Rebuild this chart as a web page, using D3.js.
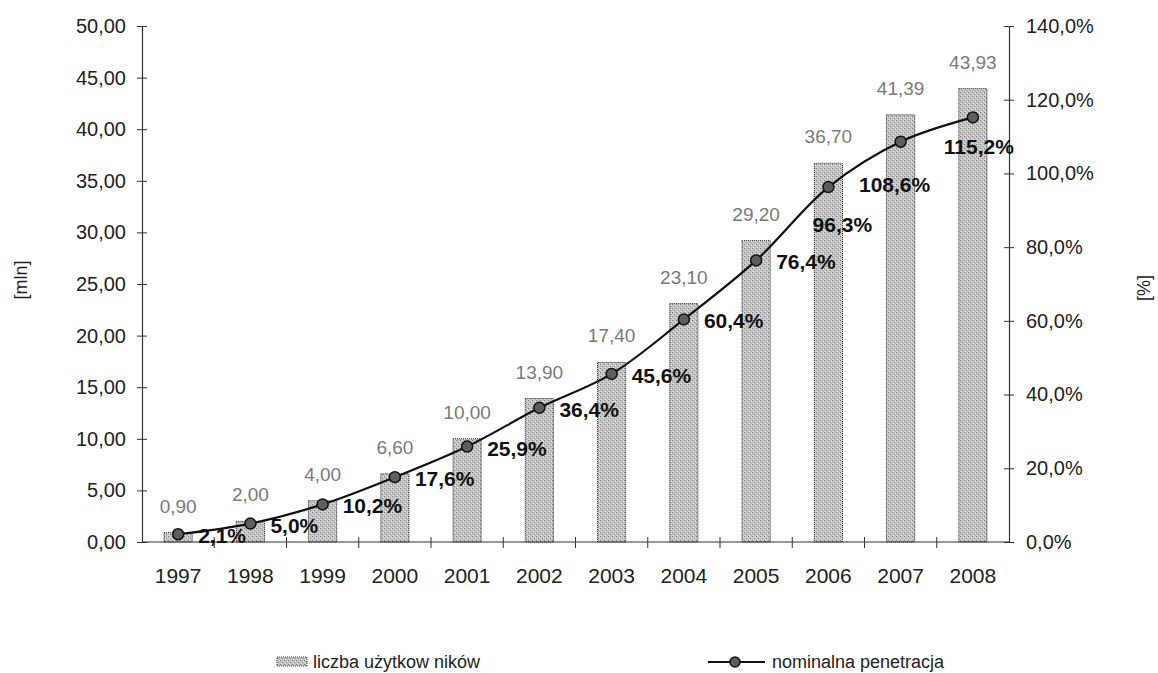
<!DOCTYPE html>
<html>
<head>
<meta charset="utf-8">
<script src="https://cdn.jsdelivr.net/npm/d3@7"></script>
<style>
  html, body { margin: 0; padding: 0; background: #fff; }
  svg { display: block; font-family: "Liberation Sans", Arial, sans-serif; }
</style>
</head>
<body>
<svg id="chart" width="1158" height="673"></svg>
<script>
// ---- data ----
const years = ["1997","1998","1999","2000","2001","2002","2003","2004","2005","2006","2007","2008"];
const users = [0.90, 2.00, 4.00, 6.60, 10.00, 13.90, 17.40, 23.10, 29.20, 36.70, 41.39, 43.93];
const penetration = [2.1, 5.0, 10.2, 17.6, 25.9, 36.4, 45.6, 60.4, 76.4, 96.3, 108.6, 115.2];
const leftTicks = [0, 5, 10, 15, 20, 25, 30, 35, 40, 45, 50];
const rightTicks = [0, 20, 40, 60, 80, 100, 120, 140];
const seriesNames = ["liczba użytkow ników", "nominalna penetracja"];
const axisTitles = ["[mln]", "[%]"];

// ---- layout ----
const W = 1158, H = 673;
const plot = { left: 142, right: 1009, top: 26, bottom: 542 };
// label placement (anchor, dx, dy baseline) for percentage labels, relative to marker
const pctLabelOffset = [
  ["start", 20, 9], ["start", 20, 9], ["start", 20, 9], ["start", 20, 9],
  ["start", 20, 9], ["start", 20, 9], ["start", 20, 9], ["start", 20, 9],
  ["start", 20, 9], ["middle", 14, 45], ["middle", -6, 50], ["middle", 6, 37]
];

const svg = d3.select("#chart");

const x = d3.scaleBand().domain(years).range([plot.left, plot.right])
  .paddingInner(0.61).paddingOuter(0.305);
const yL = d3.scaleLinear().domain([0, 50]).range([plot.bottom, plot.top]);
const yR = d3.scaleLinear().domain([0, 140]).range([plot.bottom, plot.top]);

const fmt2 = v => d3.format(".2f")(v).replace(".", ",");
const fmtP = v => d3.format(".1f")(v).replace(".", ",") + "%";

// pattern for bars (stippled gray)
const defs = svg.append("defs");
const pat = defs.append("pattern").attr("id", "stipple").attr("patternUnits", "userSpaceOnUse")
  .attr("width", 4).attr("height", 4);
pat.append("rect").attr("width", 4).attr("height", 4).attr("fill", "#c4c4c4");
pat.append("rect").attr("x", 0).attr("y", 0).attr("width", 1).attr("height", 1).attr("fill", "#7c7c7c");
pat.append("rect").attr("x", 2).attr("y", 2).attr("width", 1).attr("height", 1).attr("fill", "#888888");
pat.append("rect").attr("x", 3).attr("y", 1).attr("width", 1).attr("height", 1).attr("fill", "#e6e6e6");
pat.append("rect").attr("x", 1).attr("y", 3).attr("width", 1).attr("height", 1).attr("fill", "#e6e6e6");

// bars
svg.append("g").selectAll("rect").data(users).join("rect")
  .attr("x", (d, i) => x(years[i]))
  .attr("y", d => yL(d))
  .attr("width", x.bandwidth())
  .attr("height", d => yL(0) - yL(d))
  .attr("fill", "url(#stipple)")
  .attr("stroke", "#222")
  .attr("stroke-width", 1)
  .attr("stroke-dasharray", "1,1");

// bar labels
svg.append("g").selectAll("text").data(users).join("text")
  .attr("x", (d, i) => x(years[i]) + x.bandwidth() / 2)
  .attr("y", d => yL(d) - 20)
  .attr("text-anchor", "middle")
  .attr("font-size", 19)
  .attr("fill", "#7a7a7a")
  .text(d => fmt2(d));

// x axis line
svg.append("line").attr("x1", plot.left).attr("x2", plot.right)
  .attr("y1", plot.bottom).attr("y2", plot.bottom)
  .attr("stroke", "#333").attr("stroke-width", 1.2);
// x category ticks (between categories)
svg.append("g").selectAll("line").data(years.slice(1)).join("line")
  .attr("x1", d => x(d) - x.step() * x.paddingInner() / 2)
  .attr("x2", d => x(d) - x.step() * x.paddingInner() / 2)
  .attr("y1", plot.bottom - 5).attr("y2", plot.bottom + 6)
  .attr("stroke", "#333").attr("stroke-width", 1);
// x labels
svg.append("g").selectAll("text").data(years).join("text")
  .attr("x", d => x(d) + x.bandwidth() / 2)
  .attr("y", 583)
  .attr("text-anchor", "middle")
  .attr("font-size", 21)
  .attr("fill", "#222")
  .text(d => d);

// left axis
const gL = svg.append("g").attr("transform", `translate(${plot.left},0)`)
  .call(d3.axisLeft(yL).tickValues(leftTicks).tickFormat(fmt2).tickSize(5).tickPadding(11));
gL.select(".domain").attr("stroke", "#333").attr("stroke-width", 1.2);
gL.selectAll(".tick line").attr("x2", 5).attr("x1", -5).attr("stroke", "#333");
gL.selectAll(".tick text").attr("font-size", 20).attr("fill", "#222")
  .attr("font-family", "Liberation Sans, Arial, sans-serif");

// right axis
const gR = svg.append("g").attr("transform", `translate(${plot.right},0)`)
  .call(d3.axisRight(yR).tickValues(rightTicks).tickFormat(fmtP).tickSize(5).tickPadding(12));
gR.select(".domain").attr("stroke", "#333").attr("stroke-width", 1.2);
gR.selectAll(".tick line").attr("x1", -5).attr("x2", 5).attr("stroke", "#333");
gR.selectAll(".tick text").attr("font-size", 20).attr("fill", "#222")
  .attr("font-family", "Liberation Sans, Arial, sans-serif");

// axis titles
svg.append("text").attr("transform", "translate(27,280) rotate(-90)")
  .attr("text-anchor", "middle").attr("font-size", 18).attr("fill", "#222").text(axisTitles[0]);
svg.append("text").attr("transform", "translate(1150,288) rotate(-90)")
  .attr("text-anchor", "middle").attr("font-size", 18).attr("fill", "#222").text(axisTitles[1]);

// line
const line = d3.line()
  .x((d, i) => x(years[i]) + x.bandwidth() / 2)
  .y(d => yR(d))
  .curve(d3.curveCatmullRom.alpha(0.5));
svg.append("path").datum(penetration).attr("d", line)
  .attr("fill", "none").attr("stroke", "#111").attr("stroke-width", 2.2);

svg.append("g").selectAll("circle").data(penetration).join("circle")
  .attr("cx", (d, i) => x(years[i]) + x.bandwidth() / 2)
  .attr("cy", d => yR(d))
  .attr("r", 5.5)
  .attr("fill", "#5e5e5e")
  .attr("stroke", "#111")
  .attr("stroke-width", 1.5);

// percentage labels
svg.append("g").selectAll("text").data(penetration).join("text")
  .attr("x", (d, i) => x(years[i]) + x.bandwidth() / 2 + pctLabelOffset[i][1])
  .attr("y", (d, i) => yR(d) + pctLabelOffset[i][2])
  .attr("text-anchor", (d, i) => pctLabelOffset[i][0])
  .attr("font-size", 21)
  .attr("font-weight", "bold")
  .attr("fill", "#111")
  .text(d => fmtP(d));

// legend
const lg = svg.append("g");
lg.append("rect").attr("x", 277).attr("y", 657).attr("width", 30).attr("height", 9)
  .attr("fill", "url(#stipple)").attr("stroke", "#333").attr("stroke-width", 1).attr("stroke-dasharray", "1,1");
lg.append("text").attr("x", 313).attr("y", 668).attr("font-size", 18).attr("fill", "#222").text(seriesNames[0]);
lg.append("line").attr("x1", 708).attr("x2", 765).attr("y1", 662).attr("y2", 662)
  .attr("stroke", "#111").attr("stroke-width", 2.2);
lg.append("circle").attr("cx", 735).attr("cy", 662).attr("r", 5)
  .attr("fill", "#5e5e5e").attr("stroke", "#111").attr("stroke-width", 1.5);
lg.append("text").attr("x", 772).attr("y", 668).attr("font-size", 18).attr("fill", "#222").text(seriesNames[1]);
</script>
</body>
</html>
